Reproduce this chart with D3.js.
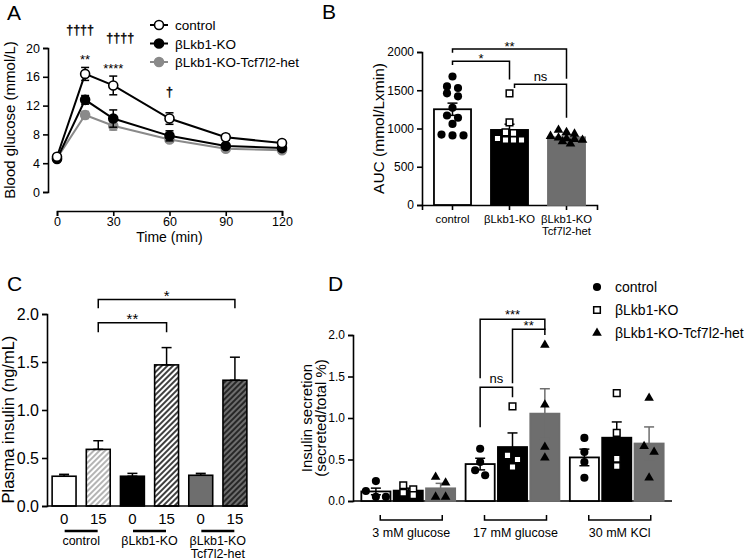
<!DOCTYPE html>
<html>
<head>
<meta charset="utf-8">
<script src="https://cdn.jsdelivr.net/npm/d3@7"></script>
<style>
  body { margin: 0; background: #fff; }
  svg { font-family: "Liberation Sans", Arial, sans-serif; }
</style>
</head>
<body>
<svg id="fig" width="745" height="560"></svg>
<script>
// ---- data ----
const seriesNames = ["control", "βLkb1-KO", "βLkb1-KO-Tcf7l2-het"];

// A: glucose tolerance test
const timePoints = [0, 15, 30, 60, 90, 120];
const glucoseControl = [4.9, 16.4, 14.8, 10.2, 7.6, 6.8];
const glucoseControlSem = [0.3, 0.9, 1.3, 0.8, 0.4, 0.3];
const glucoseKO = [4.6, 12.8, 10.2, 7.8, 6.4, 6.1];
const glucoseKOSem = [0.3, 0.6, 1.2, 0.7, 0.3, 0.3];
const glucoseHet = [4.7, 10.7, 9.2, 7.3, 6.0, 5.8];
const glucoseHetSem = [0.2, 0.5, 0.6, 0.4, 0.2, 0.2];

// B: area under curve
const aucLabels = ["control", "βLkb1-KO", "βLkb1-KO|Tcf7l2-het"];
const aucControl = [1680, 1550, 1530, 1460, 1420, 1270, 1170, 1140, 1060, 920, 910, 910];
const aucKO = [1460, 1080, 950, 940, 870, 850, 850, 850];
const aucHet = [980, 950, 930, 900, 880, 870, 860, 850, 830, 800];
const aucSem = [80, 75, 25];

// C: plasma insulin
const insulinGroups = ["control", "βLkb1-KO", "βLkb1-KO|Tcf7l2-het"];
const insulinTimes = ["0", "15", "0", "15", "0", "15"];
const insulinMean = [0.31, 0.59, 0.31, 1.47, 0.32, 1.31];
const insulinSem = [0.02, 0.09, 0.03, 0.18, 0.02, 0.24];

// D: insulin secretion
const secretionConditions = ["3 mM glucose", "17 mM glucose", "30 mM KCl"];
const secretionControl = [[0.24, 0.12, 0.05, 0.05], [0.63, 0.47, 0.37, 0.31], [0.76, 0.59, 0.47, 0.28]];
const secretionKO = [[0.19, 0.14, 0.10, 0.07], [1.14, 0.55, 0.50, 0.41], [1.30, 0.82, 0.51, 0.42]];
const secretionHet = [[0.29, 0.22, 0.05, 0.05], [1.88, 1.16, 0.65, 0.52], [1.24, 0.66, 0.59, 0.28]];
const secretionSemControl = [0.04, 0.07, 0.10];
const secretionSemKO = [0.03, 0.17, 0.19];
const secretionSemHet = [0.06, 0.30, 0.20];

// ---- helpers ----
const GRAY = "#6e6e6e";
const svg = d3.select("#fig");
svg.append("rect").attr("width", 745).attr("height", 560).attr("fill", "#fff");
const defs = svg.append("defs");

function hatch(id, bg, stroke, sw) {
  const p = defs.append("pattern").attr("id", id)
    .attr("patternUnits", "userSpaceOnUse").attr("width", 4).attr("height", 4)
    .attr("patternTransform", "rotate(45)");
  p.append("rect").attr("width", 4).attr("height", 4).attr("fill", bg);
  p.append("line").attr("x1", 1).attr("x2", 1).attr("y1", 0).attr("y2", 4)
    .attr("stroke", stroke).attr("stroke-width", sw);
}
hatch("hLight", "#fff", "#777", 1.1);
hatch("hDark", "#fff", "#000", 1.5);
hatch("hGray", GRAY, "#000", 1.3);

function styleAxis(g, fs) {
  g.attr("font-family", null).attr("font-size", fs);
  g.selectAll(".domain").attr("stroke-width", 1.6);
  g.selectAll(".tick line").attr("stroke-width", 1.6);
  g.selectAll(".tick text").attr("fill", "#000");
}

function errorBar(g, x, y1, y2, w, color) {
  g.append("line").attr("x1", x).attr("x2", x).attr("y1", y1).attr("y2", y2)
    .attr("stroke", color).attr("stroke-width", 1.5);
  [y1, y2].forEach(y => g.append("line").attr("x1", x - w / 2).attr("x2", x + w / 2)
    .attr("y1", y).attr("y2", y).attr("stroke", color).attr("stroke-width", 1.5));
}

function bracket(g, x1, x2, yl, y1, y2, label, fs, dy) {
  g.append("path").attr("d", `M${x1},${y1}V${yl}H${x2}V${y2}`)
    .attr("fill", "none").attr("stroke", "#000").attr("stroke-width", 1.5);
  g.append("text").attr("x", (x1 + x2) / 2).attr("y", yl + dy)
    .attr("text-anchor", "middle").attr("font-size", fs).text(label);
}

// rows of similar values, spread side by side (GraphPad-like scatter)
function swarmOffsets(values, y, gap, spacing) {
  const order = d3.range(values.length).sort((a, b) => values[b] - values[a]);
  const offsets = new Array(values.length).fill(0);
  let row = [];
  const flush = () => {
    row.forEach((idx, k) => offsets[idx] = (k - (row.length - 1) / 2) * spacing);
    row = [];
  };
  order.forEach(idx => {
    if (row.length && Math.abs(y(values[idx]) - y(values[row[0]])) > gap) flush();
    row.push(idx);
  });
  flush();
  return offsets;
}

const markerStyle = [
  { type: d3.symbolCircle, size: 52, fill: "#000", stroke: "none" },
  { type: d3.symbolSquare, size: 44, fill: "#fff", stroke: "#000" },
  { type: d3.symbolTriangle, size: 40, fill: "#000", stroke: "none" }
];
function marker(g, k, x, y) {
  const m = markerStyle[k];
  g.append("path").attr("d", d3.symbol(m.type, m.size)())
    .attr("transform", `translate(${x},${y})`)
    .attr("fill", m.fill).attr("stroke", m.stroke).attr("stroke-width", 1.5);
}

function multiLabel(g, x, y, label, fs, lh) {
  const t = g.append("text").attr("x", x).attr("y", y).attr("text-anchor", "middle").attr("font-size", fs);
  label.split("|").forEach((s, i) => t.append("tspan").attr("x", x).attr("dy", i ? lh : 0).text(s));
}

function panelLetter(x, y, s) {
  svg.append("text").attr("x", x).attr("y", y).attr("font-size", 21).text(s);
}

// ---- A ----
const gA = svg.append("g");
const xA = d3.scaleLinear().domain([0, 120]).range([57, 282]);
const yA = d3.scaleLinear().domain([0, 20]).range([192, 48]);
styleAxis(gA.append("g").attr("transform", "translate(48,0)")
  .call(d3.axisLeft(yA).tickValues(d3.range(0, 21, 4)).tickSizeOuter(0).tickSize(5).tickPadding(3)), 12.5);
styleAxis(gA.append("g").attr("transform", "translate(0,211)")
  .call(d3.axisBottom(xA).tickValues(d3.range(0, 121, 30)).tickSizeOuter(0).tickSize(5).tickPadding(1)), 12.5);
gA.append("text").attr("x", xA(60)).attr("y", 242).attr("text-anchor", "middle").attr("font-size", 14).text("Time (min)");
gA.append("text").attr("transform", `translate(15,${yA(10)}) rotate(-90)`).attr("text-anchor", "middle")
  .attr("font-size", 15).text("Blood glucose (mmol/L)");

const seriesA = [
  { mean: glucoseHet, sem: glucoseHetSem, color: "#8a8a8a", fill: "#8a8a8a" },
  { mean: glucoseKO, sem: glucoseKOSem, color: "#000", fill: "#000" },
  { mean: glucoseControl, sem: glucoseControlSem, color: "#000", fill: "#fff" }
];
seriesA.forEach(s => {
  gA.append("path").datum(s.mean).attr("fill", "none").attr("stroke", s.color).attr("stroke-width", 2)
    .attr("d", d3.line().x((d, i) => xA(timePoints[i])).y(d => yA(d)));
  s.mean.forEach((v, i) => errorBar(gA, xA(timePoints[i]), yA(v + s.sem[i]), yA(v - s.sem[i]), 8, s.color));
  gA.selectAll(null).data(s.mean).enter().append("circle")
    .attr("cx", (d, i) => xA(timePoints[i])).attr("cy", d => yA(d)).attr("r", 4.5)
    .attr("fill", s.fill).attr("stroke", s.color).attr("stroke-width", 1.6);
});
// legend
seriesA.slice().reverse().forEach((s, i) => {
  const y = 25 + i * 18.5;
  gA.append("line").attr("x1", 150).attr("x2", 168).attr("y1", y).attr("y2", y).attr("stroke", s.color).attr("stroke-width", 2);
  gA.append("circle").attr("cx", 159).attr("cy", y).attr("r", 4.5).attr("fill", s.fill).attr("stroke", s.color).attr("stroke-width", 1.6);
  gA.append("text").attr("x", 175).attr("y", y + 5).attr("font-size", 13.5).text(seriesNames[i]);
});
// significance marks (a thin stroke keeps the daggers plain black)
[["††††", 15, 21.9, -5], ["††††", 30, 20.8, 7], ["**", 15, 17.8, 0], ["****", 30, 16.5, 0], ["†", 60, 13.3, 0]].forEach(a => {
  const t = gA.append("text").attr("x", xA(a[1]) + a[3]).attr("y", yA(a[2])).attr("text-anchor", "middle")
    .attr("font-size", 13).attr("fill", "#000").text(a[0]);
  if (a[0][0] === "†") t.attr("stroke", "#000").attr("stroke-width", 0.35).attr("font-size", 12.5);
});
panelLetter(7, 20, "A");

// ---- B ----
const gB = svg.append("g");
const xB = d3.scaleBand().domain(aucLabels).range([422, 597]).paddingInner(0.35).paddingOuter(0.21);
const yB = d3.scaleLinear().domain([0, 2000]).range([205, 52]);
styleAxis(gB.append("g").attr("transform", "translate(422,0)")
  .call(d3.axisLeft(yB).tickValues(d3.range(0, 2001, 500)).tickFormat(d3.format("d")).tickSizeOuter(0).tickSize(5).tickPadding(3)), 12);
const axB = gB.append("g").attr("transform", "translate(0,205)")
  .call(d3.axisBottom(xB).tickSizeOuter(0).tickSize(5).tickFormat(""));
styleAxis(axB, 12);
aucLabels.forEach(l => multiLabel(gB, xB(l) + xB.bandwidth() / 2, 223, l, 11.3, 11.5));
gB.append("text").attr("transform", `translate(384,${yB(1000)}) rotate(-90)`).attr("text-anchor", "middle")
  .attr("font-size", 15.5).text("AUC (mmol/Lxmin)");

const aucSets = [aucControl, aucKO, aucHet];
const aucFill = ["#fff", "#000", GRAY];
const aucStroke = ["#000", "#000", GRAY];
aucSets.forEach((vals, k) => {
  const cx = xB(aucLabels[k]) + xB.bandwidth() / 2;
  const m = d3.mean(vals);
  gB.append("rect").attr("x", xB(aucLabels[k])).attr("y", yB(m)).attr("width", xB.bandwidth())
    .attr("height", yB(0) - yB(m)).attr("fill", aucFill[k]).attr("stroke", aucStroke[k]).attr("stroke-width", 1.8);
  errorBar(gB, cx, yB(m + aucSem[k]), yB(m - aucSem[k]), 10, k === 2 ? GRAY : "#000");
  const off = swarmOffsets(vals, yB, 5, k === 0 ? 11 : 8);
  vals.forEach((v, i) => marker(gB, k, cx + off[i], yB(v)));
});
const bx = l => xB(l) + xB.bandwidth() / 2;
bracket(gB, bx(aucLabels[0]), bx(aucLabels[2]), yB(2040), yB(1990), yB(1650), "**", 13, 2);
bracket(gB, bx(aucLabels[0]), bx(aucLabels[1]), yB(1880), yB(1830), yB(1640), "*", 13, 2);
bracket(gB, bx(aucLabels[1]) + 5, bx(aucLabels[2]), yB(1580), yB(1530), yB(1140), "ns", 13, -3);
panelLetter(322, 19, "B");

// ---- C ----
const gC = svg.append("g");
const xC = d3.scaleBand().domain(d3.range(insulinMean.length)).range([47, 252]).paddingInner(0.3).paddingOuter(0.15);
const yC = d3.scaleLinear().domain([0, 2]).range([506, 314]);
styleAxis(gC.append("g").attr("transform", "translate(47,0)")
  .call(d3.axisLeft(yC).tickValues(d3.range(0, 2.01, 0.5)).tickFormat(d3.format(".1f")).tickSizeOuter(0).tickSize(5).tickPadding(3)), 16);
gC.append("text").attr("transform", `translate(14,${yC(0.9)}) rotate(-90)`).attr("text-anchor", "middle")
  .attr("font-size", 16.5).text("Plasma insulin (ng/mL)");
const insulinFill = ["#fff", "url(#hLight)", "#000", "url(#hDark)", GRAY, "url(#hGray)"];
insulinMean.forEach((v, i) => {
  gC.append("rect").attr("x", xC(i)).attr("y", yC(v)).attr("width", xC.bandwidth()).attr("height", yC(0) - yC(v))
    .attr("fill", insulinFill[i]).attr("stroke", "#000").attr("stroke-width", 1.6);
  errorBar(gC, xC(i) + xC.bandwidth() / 2, yC(v + insulinSem[i]), yC(v), 10, "#000");
  gC.append("text").attr("x", xC(i) + xC.bandwidth() / 2).attr("y", 524).attr("text-anchor", "middle")
    .attr("font-size", 15).text(insulinTimes[i]);
});
gC.append("line").attr("x1", 47).attr("x2", 248).attr("y1", yC(0)).attr("y2", yC(0)).attr("stroke", "#000").attr("stroke-width", 1.6);
insulinGroups.forEach((l, j) => {
  const c = (xC(2 * j) + xC(2 * j + 1) + xC.bandwidth()) / 2;
  gC.append("line").attr("x1", c - 16.5).attr("x2", c + 16.5).attr("y1", 531).attr("y2", 531).attr("stroke", "#000").attr("stroke-width", 2.5);
  multiLabel(gC, c, 545, l, 12.5, 12.5);
});
const cx = i => xC(i) + xC.bandwidth() / 2;
bracket(gC, cx(1), cx(5), yC(2.15), yC(2.06), yC(2.06), "*", 15, 1);
bracket(gC, cx(1), cx(3), yC(1.91), yC(1.81), yC(1.81), "**", 15, 1);
panelLetter(7, 291, "C");

// ---- D ----
const gD = svg.append("g");
const xD = d3.scaleBand().domain(secretionConditions).range([353, 672]).paddingInner(0.1).paddingOuter(0.08);
const xDi = d3.scaleBand().domain(d3.range(3)).range([0, xD.bandwidth()]).paddingInner(0.1);
const yD = d3.scaleLinear().domain([0, 2]).range([501, 335]);
styleAxis(gD.append("g").attr("transform", "translate(353,0)")
  .call(d3.axisLeft(yD).tickValues(d3.range(0, 2.01, 0.5)).tickFormat(d3.format(".1f")).tickSizeOuter(0).tickSize(5).tickPadding(3)), 12);
gD.append("line").attr("x1", 353).attr("x2", 672).attr("y1", yD(0)).attr("y2", yD(0)).attr("stroke", "#000").attr("stroke-width", 1.6);
gD.append("text").attr("transform", `translate(312,${yD(1)}) rotate(-90)`).attr("text-anchor", "middle")
  .attr("font-size", 15).text("Insulin secretion");
gD.append("text").attr("transform", `translate(326,${yD(1)}) rotate(-90)`).attr("text-anchor", "middle")
  .attr("font-size", 15).text("(secreted/total %)");

const secSets = [secretionControl, secretionKO, secretionHet];
const secSem = [secretionSemControl, secretionSemKO, secretionSemHet];
const secFill = ["#fff", "#000", GRAY];
const secStroke = ["#000", "#000", GRAY];
secretionConditions.forEach((c, j) => {
  secSets.forEach((set, k) => {
    const vals = set[j];
    const m = d3.mean(vals);
    const x0 = xD(c) + xDi(k);
    const mid = x0 + xDi.bandwidth() / 2;
    gD.append("rect").attr("x", x0).attr("y", yD(m)).attr("width", xDi.bandwidth()).attr("height", yD(0) - yD(m))
      .attr("fill", secFill[k]).attr("stroke", secStroke[k]).attr("stroke-width", 1.8);
    errorBar(gD, mid, yD(m + secSem[k][j]), yD(m - secSem[k][j]), 10, k === 2 ? GRAY : "#000");
    const off = swarmOffsets(vals, yD, 6, 10);
    vals.forEach((v, i) => marker(gD, k, mid + off[i], yD(v)));
  });
  const gc = xD(c) + xD.bandwidth() / 2 + 3;
  gD.append("path").attr("d", `M${gc - 31},515V520H${gc + 31}V515`).attr("fill", "none").attr("stroke", "#000").attr("stroke-width", 1.5);
  gD.append("text").attr("x", gc).attr("y", 537).attr("text-anchor", "middle").attr("font-size", 12.5).text(c);
});
const dx = (j, k) => xD(secretionConditions[j]) + xDi(k) + xDi.bandwidth() / 2;
bracket(gD, dx(1, 0), dx(1, 2), yD(2.19), yD(1.48), yD(2.06), "***", 13, 0);
bracket(gD, dx(1, 1), dx(1, 2), yD(2.07), yD(1.42), yD(2.0), "**", 13, 1);
bracket(gD, dx(1, 0), dx(1, 1), yD(1.37), yD(0.89), yD(1.25), "ns", 13, -4);
// legend
seriesNames.forEach((n, k) => {
  const y = 287 + k * 23;
  marker(gD, k, 597, y);
  gD.append("text").attr("x", 615).attr("y", y + 5).attr("font-size", 14).text(n);
});
panelLetter(328, 291, "D");
</script>
</body>
</html>
